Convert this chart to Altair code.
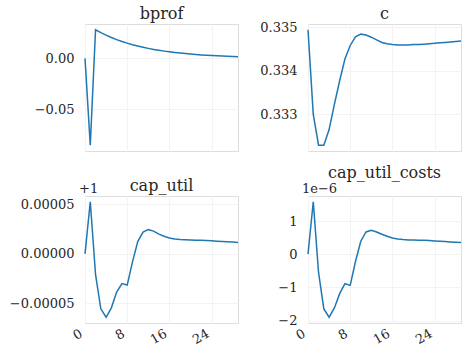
import altair as alt
import pandas as pd

# ---- data ----
t = list(range(30))

bprof = [0.0, -0.085, 0.028, 0.0252, 0.0227, 0.0204, 0.0184, 0.0165, 0.0149, 0.0134,
         0.0121, 0.0109, 0.0098, 0.0088, 0.0079, 0.0071, 0.0064, 0.0058, 0.0052, 0.0047,
         0.0042, 0.0038, 0.0034, 0.0031, 0.0028, 0.0025, 0.0023, 0.0021, 0.0019, 0.0017]

c = [0.33494, 0.33300, 0.33229, 0.33229, 0.33265, 0.33323, 0.33377, 0.33427, 0.33458, 0.33478,
     0.33484, 0.33482, 0.33477, 0.33471, 0.33465, 0.33462, 0.33460, 0.33459, 0.33459, 0.33459,
     0.33460, 0.33460, 0.33461, 0.33462, 0.33463, 0.33464, 0.33465, 0.33466, 0.33467, 0.33468]

# cap_util shown as offset from 1 (axis offset text "+1")
cap_util_minus_1 = [0.0, 5.27e-5, -2.1e-5, -5.55e-5, -6.4e-5, -5.45e-5, -3.85e-5, -3.0e-5, -3.15e-5, -0.8e-5,
                    1.25e-5, 2.2e-5, 2.45e-5, 2.3e-5, 2.0e-5, 1.78e-5, 1.6e-5, 1.5e-5, 1.45e-5, 1.43e-5,
                    1.41e-5, 1.39e-5, 1.37e-5, 1.35e-5, 1.32e-5, 1.29e-5, 1.26e-5, 1.23e-5, 1.2e-5, 1.16e-5]

# cap_util_costs in units of 1e-6
cap_util_costs_e6 = [0.0, 1.58, -0.55, -1.65, -1.9, -1.62, -1.19, -0.89, -0.94, -0.22,
                     0.39, 0.67, 0.72, 0.67, 0.60, 0.54, 0.49, 0.46, 0.44, 0.43,
                     0.43, 0.42, 0.42, 0.41, 0.40, 0.39, 0.38, 0.37, 0.36, 0.35]

x_ticks = [0, 8, 16, 24]

FONT = "DejaVu Serif"
TXT = "#262626"
GRID = "#f3f3f3"
LINE = "#1f77b4"
W, H = 153, 127


def panel(values, title, ydomain, yticks, yfmt, show_x, title_y, extent, offset_text=None):
    df = pd.DataFrame({"t": t, "v": values})
    if show_x:
        xaxis = alt.Axis(values=x_ticks, grid=True, gridColor=GRID, domain=False, ticks=False,
                         labelAngle=-30, labelAlign="right", labelBaseline="top", labelPadding=4,
                         labelOffset=-7, labelFlush=False, labelFont=FONT, labelFontSize=13,
                         labelColor=TXT, title=None)
    else:
        xaxis = alt.Axis(values=x_ticks, grid=True, gridColor=GRID, domain=False, ticks=False,
                         labels=False, title=None, minExtent=0, maxExtent=0)
    yaxis = alt.Axis(values=yticks, format=yfmt, grid=True, gridColor=GRID, domain=False, ticks=False,
                     labelPadding=11, labelFont=FONT, labelFontSize=13, labelColor=TXT, title=None,
                     minExtent=extent, maxExtent=extent)
    line = alt.Chart(df).mark_line(color=LINE, strokeWidth=1.5).encode(
        x=alt.X("t:Q", scale=alt.Scale(domain=[0, 29], nice=False, zero=False), axis=xaxis),
        y=alt.Y("v:Q", scale=alt.Scale(domain=ydomain, nice=False, zero=False), axis=yaxis),
    )
    ttl = alt.Chart(pd.DataFrame({"s": [title]})).mark_text(
        align="center", baseline="alphabetic", font=FONT, fontSize=16, color=TXT
    ).encode(text="s:N", x=alt.value(W / 2), y=alt.value(title_y))
    layers = [line, ttl]
    if offset_text:
        txt = alt.Chart(pd.DataFrame({"s": [offset_text]})).mark_text(
            align="left", baseline="alphabetic", font=FONT, fontSize=13, color=TXT
        ).encode(text="s:N", x=alt.value(-6), y=alt.value(-3))
        layers.append(txt)
    return alt.layer(*layers).properties(width=W, height=H)


tl = panel(bprof, "bprof", [-0.09065, 0.03365], [-0.05, 0.0], ".2f", False, -5, 84)
tr = panel(c, "c", [0.332158, 0.335073], [0.333, 0.334, 0.335], ".3f", False, -5, 40)
bl = panel(cap_util_minus_1, "cap_util", [-6.98e-5, 5.85e-5], [-0.00005, 0.0, 0.00005], ".5f", True, -5, 84, "+1")
br = panel(cap_util_costs_e6, "cap_util_costs", [-2.074, 1.754], [-2, -1, 0, 1], "d", True, -18, 40, "1e\u22126")

chart = alt.concat(tl, tr, bl, br, columns=2, spacing={"row": 12, "column": 17},
                   align="each").properties(
    padding={"left": 0, "top": 5, "right": 0, "bottom": 0}
).configure_view(stroke=None).configure(background="white")

chart.save("out.html", embed_options={"renderer": "svg", "actions": False})
